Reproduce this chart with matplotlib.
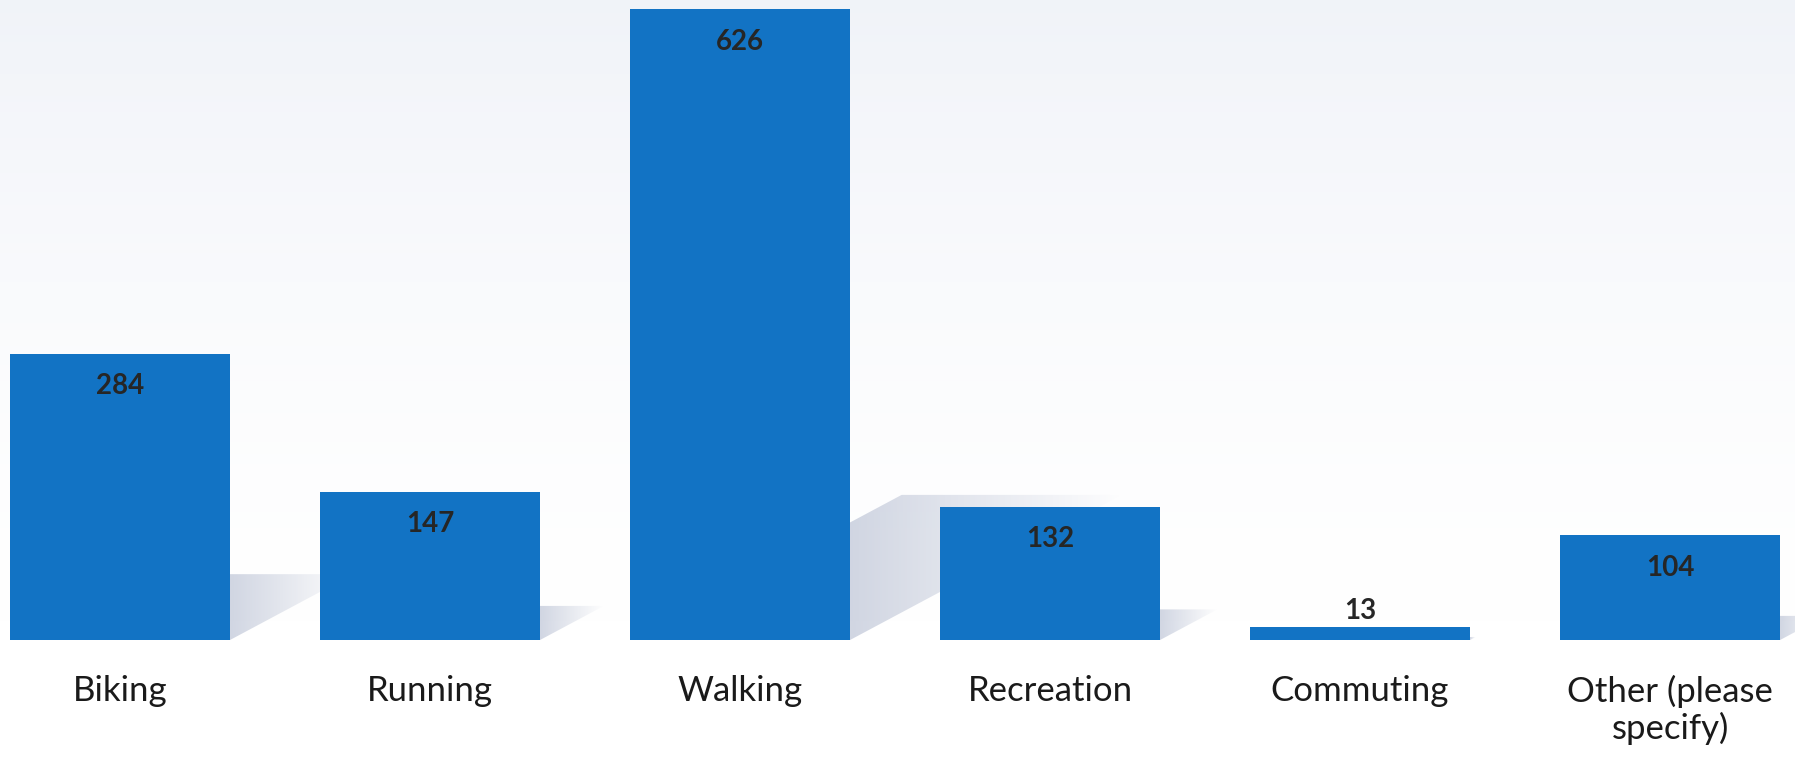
import numpy as np
import matplotlib
matplotlib.use('Agg')
import matplotlib.pyplot as plt
from matplotlib.patches import Polygon

categories = ['Biking', 'Running', 'Walking', 'Recreation', 'Commuting', 'Other (please\nspecify)']
counts = [284, 147, 626, 132, 13, 104]

barColor = '#1273c4'
plt.rcParams['font.family'] = ['Lato', 'DejaVu Sans']

fig = plt.figure(figsize=(17.95, 7.57), dpi=100)
fig.patch.set_facecolor('white')
ax = fig.add_axes([0, 117 / 757, 1, 640 / 757])
ax.set_facecolor('none')

pos = np.arange(len(categories))
barWidth = 0.71
ax.set_xlim(-0.387, 5.403)
ax.set_ylim(0, 635)

# faint background haze, fading towards the bottom
bg = np.ones((200, 2, 4))
fade = np.linspace(1, 0, 200) ** 1.5
bg[:, :, 0] = 0.93
bg[:, :, 1] = 0.945
bg[:, :, 2] = 0.97
bg[:, :, 3] = (fade * 0.8)[:, None]
ax.imshow(bg, extent=[-0.387, 5.403, 0, 635], aspect='auto', zorder=0, origin='upper')

# skewed floor shadows behind each bar
for x, h in zip(pos, counts):
    dy = 0.23 * h
    dx = 0.0014 * h
    xl, xr = x - barWidth / 2, x + barWidth / 2
    poly = Polygon([(xl, 0), (xr, 0), (xr + dx, dy), (xl + dx, dy)], closed=True,
                   facecolor='none', edgecolor='none')
    ax.add_patch(poly)
    g = np.zeros((50, 100, 4))
    g[:, :, 0] = 0.64
    g[:, :, 1] = 0.68
    g[:, :, 2] = 0.78
    alpha = np.linspace(0.5, 0.0, 100)
    g[:, :, 3] = alpha[None, :]
    im = ax.imshow(g, extent=[xr, xr + dx, 0, dy], aspect='auto', zorder=1, origin='upper')
    im.set_clip_path(poly)

bars = ax.bar(pos, counts, width=barWidth, color=barColor, zorder=2)

for b, v in zip(bars, counts):
    cx = b.get_x() + b.get_width() / 2
    if v < 40:
        ax.annotate(str(v), (cx, v), xytext=(0, 2), textcoords='offset points',
                    ha='center', va='bottom', fontsize=20, fontweight='bold', color='#262626', zorder=3)
    else:
        ax.annotate(str(v), (cx, v), xytext=(0, -14), textcoords='offset points',
                    ha='center', va='top', fontsize=20, fontweight='bold', color='#262626', zorder=3)

ax.set_xlim(-0.387, 5.403)
ax.set_ylim(0, 635)
ax.set_xticks(pos)
ax.set_xticklabels(categories, fontsize=25, color='#1a1a1a', linespacing=1.15)
ax.tick_params(axis='x', length=0, pad=25)
ax.set_yticks([])
for s in ax.spines.values():
    s.set_visible(False)

fig.savefig('out.png', dpi=100)
